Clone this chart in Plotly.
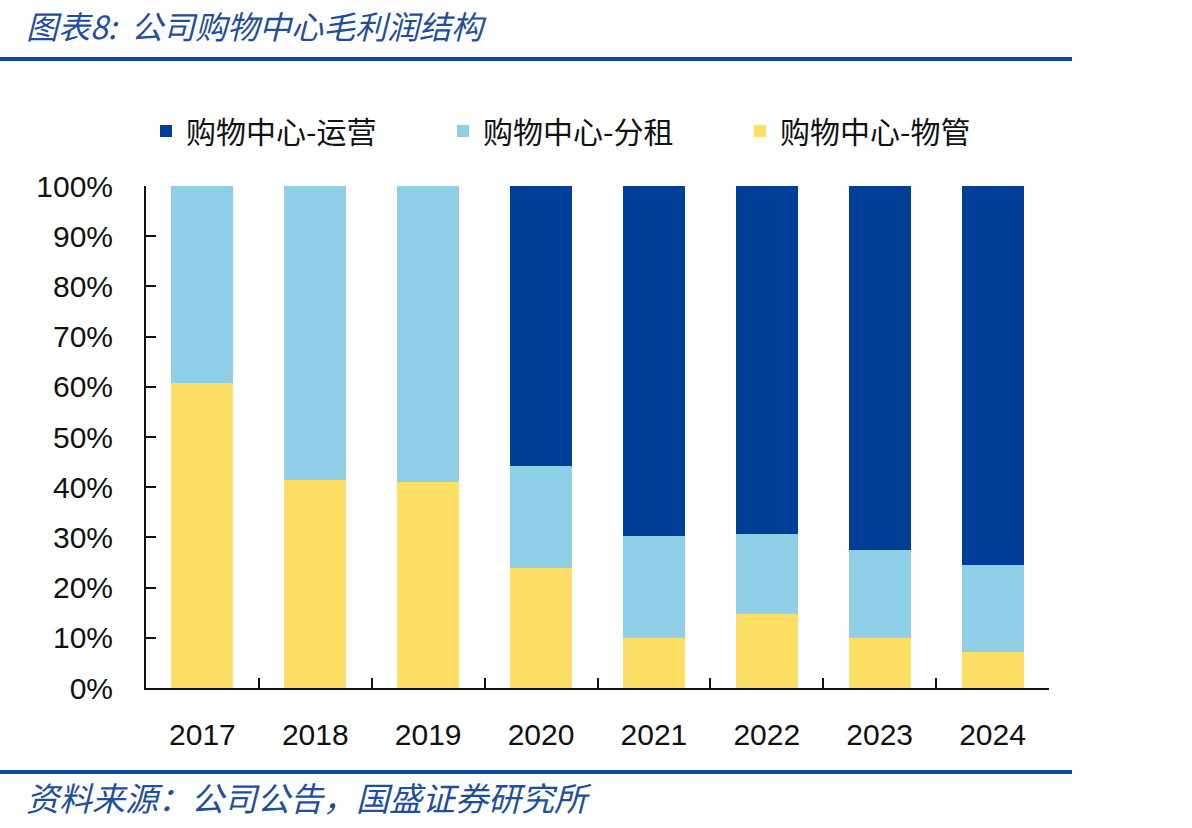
import plotly.graph_objects as go

years = ["2017", "2018", "2019", "2020", "2021", "2022", "2023", "2024"]
mall_ops = [0, 0, 0, 55.8, 69.8, 69.4, 72.6, 75.4]        # 购物中心-运营
mall_lease = [39.2, 58.5, 59.0, 20.2, 20.3, 15.8, 17.4, 17.4]  # 购物中心-分租
mall_pm = [60.8, 41.5, 41.0, 24.0, 9.9, 14.8, 10.0, 7.2]   # 购物中心-物管
y_ticks = [0, 10, 20, 30, 40, 50, 60, 70, 80, 90, 100]
y_tick_text = [f"{v}%" for v in y_ticks]

names = ["购物中心-运营", "购物中心-分租", "购物中心-物管"]
colors = ["#003F98", "#8ECEE6", "#FDDF66"]

fig = go.Figure()
fig.add_trace(go.Bar(x=years, y=mall_pm, name=names[2], marker=dict(color=colors[2], line=dict(width=0))))
fig.add_trace(go.Bar(x=years, y=mall_lease, name=names[1], marker=dict(color=colors[1], line=dict(width=0))))
fig.add_trace(go.Bar(x=years, y=mall_ops, name=names[0], marker=dict(color=colors[0], line=dict(width=0))))

W, H = 1192, 828
L, R, T, B = 146, 1049, 186, 688
pw, ph = R - L, B - T

def px(x):
    return (x - L) / pw

def py(y):
    return (B - y) / ph

fig.update_layout(
    width=W, height=H,
    margin=dict(l=L, r=W - R, t=T, b=H - B),
    paper_bgcolor="white", plot_bgcolor="white",
    barmode="stack", bargap=0.45,
    showlegend=True,
    legend=dict(orientation="h", x=px(146), y=py(131), xanchor="left", yanchor="middle",
                traceorder="reversed", entrywidth=252, entrywidthmode="pixels",
                font=dict(family="Noto Sans CJK SC", size=30, color="#111111"),
                itemwidth=30, bgcolor="rgba(0,0,0,0)"),
    font=dict(family="Liberation Sans, Arial", color="#111111"),
)

fig.update_xaxes(
    type="category", showline=True, linecolor="#111111", linewidth=2,
    ticks="inside", tickson="boundaries", ticklen=10, tickwidth=2, tickcolor="#111111",
    tickfont=dict(family="Liberation Sans, Arial", size=30, color="#111111"),
    showgrid=False, zeroline=False, ticklabelstandoff=19,
)
fig.update_yaxes(
    range=[0, 100], tickvals=y_ticks, ticktext=y_tick_text,
    showline=True, linecolor="#111111", linewidth=2,
    ticks="inside", ticklen=10, tickwidth=2, tickcolor="#111111",
    tickfont=dict(family="Liberation Sans, Arial", size=30, color="#111111"),
    showgrid=False, zeroline=False, ticklabelstandoff=25,
)

blue = "#0B4A9E"
fig.add_shape(type="line", xref="paper", yref="paper", x0=px(0), x1=px(1072), y0=py(59), y1=py(59),
              line=dict(color=blue, width=4))
fig.add_shape(type="line", xref="paper", yref="paper", x0=px(0), x1=px(1072), y0=py(772), y1=py(772),
              line=dict(color=blue, width=4))

fig.add_annotation(text="图表8:  公司购物中心毛利润结构", xref="paper", yref="paper",
                   x=px(24), y=py(25), xanchor="left", yanchor="middle", showarrow=False,
                   font=dict(family="Noto Sans CJK SC", size=32, color="#1F4E9A", style="italic"))
fig.add_annotation(text="资料来源：公司公告，国盛证券研究所", xref="paper", yref="paper",
                   x=px(24), y=py(797), xanchor="left", yanchor="middle", showarrow=False,
                   font=dict(family="Noto Sans CJK SC", size=33, color="#1F4E9A", style="italic"))

fig.write_html("out.html")
